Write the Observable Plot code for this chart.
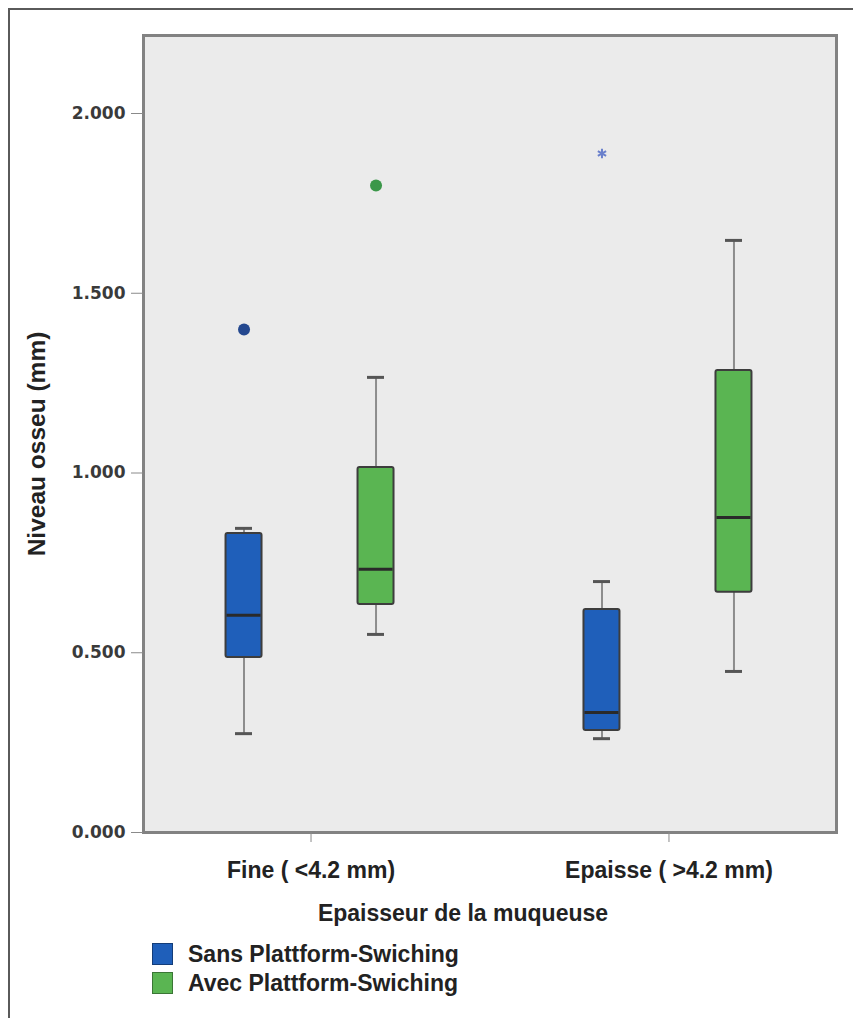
<!DOCTYPE html>
<html>
<head>
<meta charset="utf-8">
<script src="https://cdn.jsdelivr.net/npm/d3@7"></script>
<script src="https://cdn.jsdelivr.net/npm/@observablehq/plot@0.6"></script>
<style>
  html, body { margin: 0; padding: 0; background: #ffffff; overflow: hidden; }
  #page { position: relative; width: 853px; height: 1018px; overflow: hidden; }
  #outer { position: absolute; left: 8px; top: 8px; width: 900px; height: 1100px; border: 2px solid #5a5a5a; box-sizing: border-box; }
  #chart { position: absolute; left: 0; top: 0; }
  .lbl { position: absolute; font-family: "Liberation Sans", Arial, sans-serif; font-weight: bold; color: #222; white-space: nowrap; }
  #ytitle { left: 37px; top: 444px; font-size: 24.5px; transform: translate(-50%, -50%) rotate(-90deg); }
  #xtitle { left: 0; width: 926px; top: 902px; text-align: center; font-size: 23px; line-height: 1; }
  .leg { position: absolute; left: 152px; height: 22px; display: flex; align-items: center; }
  .sw { width: 21px; height: 22px; box-sizing: border-box; border: 1px solid rgba(0,0,0,0.35); margin-right: 15px; }
  .legtxt { font-family: "Liberation Sans", Arial, sans-serif; font-weight: bold; font-size: 23px; color: #222; white-space: nowrap; }
  g[aria-label="y-axis tick"], g[aria-label="x-axis tick"] { color: #8a8a8a; }
  g[aria-label="y-axis tick label"] { color: #3a3a3a; }
  g[aria-label="x-axis tick label"] { color: #222; }
</style>
</head>
<body>
<div id="page">
  <div id="outer"></div>
  <div id="chart"></div>
  <div class="lbl" id="ytitle">Niveau osseu (mm)</div>
  <div class="lbl" id="xtitle">Epaisseur de la muqueuse</div>
  <div id="legend"></div>
</div>
<script>
// ---- data ----
const categories = ["Fine ( <4.2 mm)", "Epaisse ( >4.2 mm)"];
const groups = ["Sans Plattform-Swiching", "Avec Plattform-Swiching"];
const groupColors = ["#1f5fba", "#5ab552"];
const outlierColors = ["#24488f", "#3b9749"];

// box summaries, one entry per box
const boxCategory = ["Fine ( <4.2 mm)", "Fine ( <4.2 mm)", "Epaisse ( >4.2 mm)", "Epaisse ( >4.2 mm)"];
const boxGroup    = ["Sans Plattform-Swiching", "Avec Plattform-Swiching", "Sans Plattform-Swiching", "Avec Plattform-Swiching"];
const whiskerLow  = [0.275, 0.551, 0.261, 0.448];
const quartile1   = [0.487, 0.634, 0.284, 0.668];
const median      = [0.604, 0.732, 0.334, 0.876];
const quartile3   = [0.832, 1.015, 0.620, 1.285];
const whiskerHigh = [0.846, 1.266, 0.698, 1.647];

// outliers
const outCategory = ["Fine ( <4.2 mm)", "Fine ( <4.2 mm)", "Epaisse ( >4.2 mm)"];
const outGroup    = ["Sans Plattform-Swiching", "Avec Plattform-Swiching", "Sans Plattform-Swiching"];
const outValue    = [1.399, 1.800, 1.889];
const outKind     = ["outlier", "outlier", "extreme"];

const yTicks = [0, 0.5, 1.0, 1.5, 2.0];
const yMax = 2.217;

// ---- tables ----
const boxes = boxCategory.map((c, i) => ({
  cat: c, grp: boxGroup[i], lo: whiskerLow[i], q1: quartile1[i],
  med: median[i], q3: quartile3[i], hi: whiskerHigh[i]
}));
const outliers = outCategory.map((c, i) => ({cat: c, grp: outGroup[i], v: outValue[i], kind: outKind[i]}));

// ---- layout ----
const W = 853, H = 890;
const mL = 143, mR = 17, mT = 35, mB = H - 832;
const padInner = 0.4, padOuter = 0.168;
const step = (W - mL - mR) / (categories.length - padInner + 2 * padOuter);
const bw = step * (1 - padInner);
const inset = w => (bw - w) / 2;
const groupDx = [-67, 65];
const boxW = 36, capW = 17;

const marks = [Plot.frame({fill: "#ebebeb", stroke: null})];
groups.forEach((g, gi) => {
  const d = boxes.filter(b => b.grp === g);
  const dx = groupDx[gi];
  marks.push(
    Plot.ruleX(d, {x: "cat", y1: "lo", y2: "hi", dx, stroke: "#8d8d8d", strokeWidth: 2}),
    Plot.tickY(d, {x: "cat", y: "lo", dx, insetLeft: inset(capW), insetRight: inset(capW), stroke: "#555", strokeWidth: 3}),
    Plot.tickY(d, {x: "cat", y: "hi", dx, insetLeft: inset(capW), insetRight: inset(capW), stroke: "#555", strokeWidth: 3}),
    Plot.barY(d, {x: "cat", y1: "q1", y2: "q3", dx, insetLeft: inset(boxW), insetRight: inset(boxW), fill: groupColors[gi], stroke: "#3d3d3d", strokeWidth: 2, rx: 2}),
    Plot.tickY(d, {x: "cat", y: "med", dx, insetLeft: inset(boxW - 2), insetRight: inset(boxW - 2), stroke: "#2a2a2a", strokeWidth: 3})
  );
  const o = outliers.filter(p => p.grp === g && p.kind === "outlier");
  marks.push(Plot.dot(o, {x: "cat", y: "v", dx, r: 6, fill: outlierColors[gi], stroke: null}));
  const e = outliers.filter(p => p.grp === g && p.kind === "extreme");
  marks.push(Plot.dot(e, {x: "cat", y: "v", dx, r: 4.5, symbol: "asterisk", stroke: "#6a80cc", strokeWidth: 2}));
});
marks.push(
  Plot.frame({stroke: "#828282", strokeWidth: 3}),
  Plot.axisY({ticks: yTicks, tickFormat: d3.format(".3f"), tickSize: 12, tickPadding: 6, label: null,
              fontSize: 17, fontFamily: "DejaVu Sans", fontWeight: "bold"}),
  Plot.axisX({tickSize: 10, tickPadding: 19, label: null,
              fontSize: 23, fontFamily: "Liberation Sans", fontWeight: "bold"})
);

const chart = Plot.plot({
  width: W, height: H,
  marginLeft: mL, marginRight: mR, marginTop: mT, marginBottom: mB,
  style: {background: "transparent", overflow: "visible"},
  x: {type: "band", domain: categories, paddingInner: padInner, paddingOuter: padOuter, round: false},
  y: {domain: [0, yMax]},
  marks
});
document.getElementById("chart").appendChild(chart);

// ---- legend ----
const legend = document.getElementById("legend");
groups.forEach((g, i) => {
  const row = document.createElement("div");
  row.className = "leg";
  row.style.top = (943 + i * 29) + "px";
  const sw = document.createElement("div");
  sw.className = "sw";
  sw.style.background = groupColors[i];
  const t = document.createElement("span");
  t.className = "legtxt";
  t.textContent = g;
  row.appendChild(sw); row.appendChild(t);
  legend.appendChild(row);
});
</script>
</body>
</html>
